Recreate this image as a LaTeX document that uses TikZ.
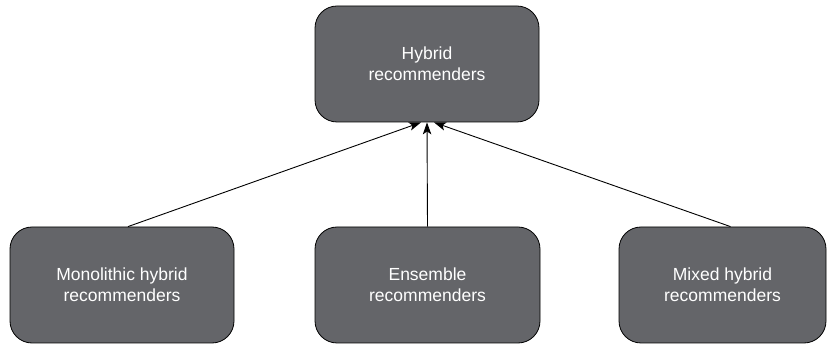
\documentclass[tikz,border=0pt]{standalone}
\usepackage{fontspec}
\setmainfont{Liberation Sans}
\usetikzlibrary{arrows.meta}
\definecolor{boxgray}{HTML}{646569}
\begin{document}
\begin{tikzpicture}[x=1pt,y=1pt,
  rbox/.style={draw=black, line width=0.8pt, fill=boxgray, rounded corners=22pt,
    text=white, font=\fontsize{17.5}{21}\selectfont, align=center,
    minimum height=116pt, inner sep=0pt},
  conn/.style={draw=black, line width=0.9pt, -{Stealth[length=12pt,width=8.5pt,inset=3pt]}}]
\useasboundingbox (0,0) rectangle (832,345);
\node[rbox, minimum width=224pt] (top) at (427,281) {Hybrid\\recommenders};
\node[rbox, minimum width=224pt] (mono) at (122,60) {Monolithic hybrid\\recommenders};
\node[rbox, minimum width=225pt] (ens) at (427.5,60) {Ensemble\\recommenders};
\node[rbox, minimum width=207pt] (mix) at (722.5,60) {Mixed hybrid\\recommenders};
\draw[conn] ([xshift=6pt]mono.north) -- ([xshift=-6pt]top.south);
\draw[conn] (ens.north) -- (top.south);
\draw[conn] ([xshift=8pt]mix.north) -- ([xshift=7pt]top.south);
\end{tikzpicture}
\end{document}
